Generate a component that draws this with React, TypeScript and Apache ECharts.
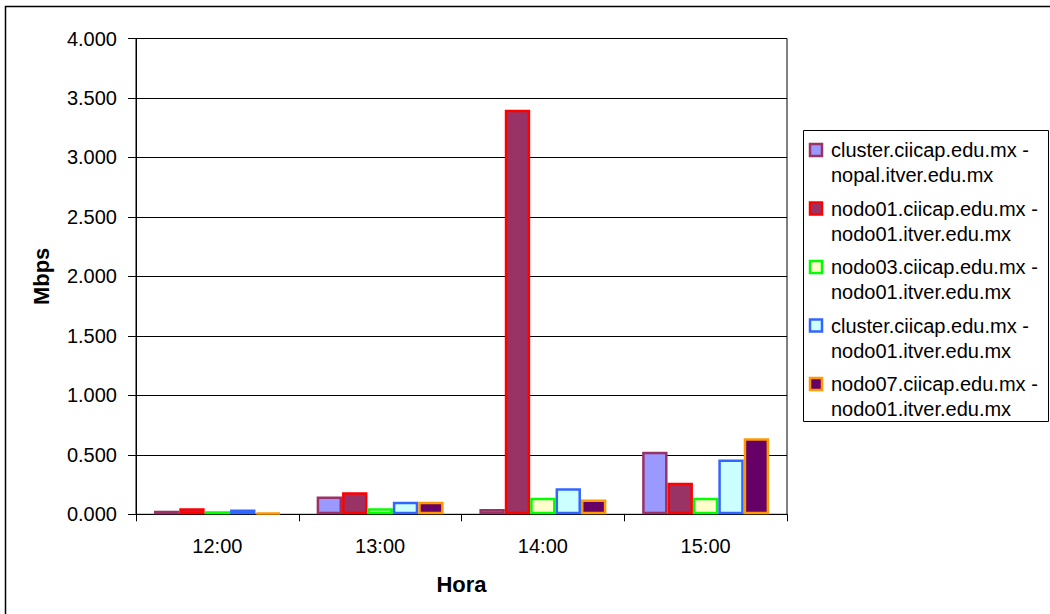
import React, { useEffect, useRef } from "react";
import * as echarts from "echarts";

const categories = ["12:00", "13:00", "14:00", "15:00"];
const seriesNames = [
  "cluster.ciicap.edu.mx -\nnopal.itver.edu.mx",
  "nodo01.ciicap.edu.mx -\nnodo01.itver.edu.mx",
  "nodo03.ciicap.edu.mx -\nnodo01.itver.edu.mx",
  "cluster.ciicap.edu.mx -\nnodo01.itver.edu.mx",
  "nodo07.ciicap.edu.mx -\nnodo01.itver.edu.mx",
];
const s1 = [0.03, 0.15, 0.045, 0.525];
const s2 = [0.05, 0.185, 3.4, 0.265];
const s3 = [0.025, 0.05, 0.14, 0.14];
const s4 = [0.04, 0.105, 0.22, 0.46];
const s5 = [0.015, 0.105, 0.125, 0.64];
const seriesValues = [s1, s2, s3, s4, s5];
const fills = ["#9999FF", "#993366", "#FFFFCC", "#CCFFFF", "#660066"];
const borders = ["#993366", "#FF0000", "#00FF00", "#3366FF", "#FF9900"];

const FONT = "Arial, 'Liberation Sans', sans-serif";

export default function App() {
  const ref = useRef<HTMLDivElement>(null);
  useEffect(() => {
    if (!ref.current) return;
    const chart = echarts.init(ref.current, null, { renderer: "svg" });
    const legendEls: any[] = [];
    const lx = 803, ly = 130, lw = 245, lh = 291;
    legendEls.push({
      type: "rect",
      shape: { x: lx + 0.5, y: ly + 0.5, width: lw, height: lh },
      style: { fill: "#fff", stroke: "#000", lineWidth: 1 },
    });
    seriesNames.forEach((name, i) => {
      const top = 144 + i * 58.5;
      legendEls.push({
        type: "rect",
        shape: { x: 810, y: top, width: 12, height: 12 },
        style: { fill: fills[i], stroke: borders[i], lineWidth: 2.5 },
      });
      legendEls.push({
        type: "text",
        x: 831,
        y: top + 6 - 12.5,
        style: {
          text: name,
          fontFamily: FONT,
          fontSize: 20,
          lineHeight: 25,
          fill: "#000",
          align: "left",
          verticalAlign: "top",
        },
      });
    });
    chart.setOption({
      animation: false,
      backgroundColor: "#fff",
      grid: {
        left: 136,
        right: 263,
        top: 38.5,
        bottom: 99.7,
        containLabel: false,
        outerBoundsMode: "none",
        show: true,
        borderColor: "#000",
        borderWidth: 1,
      },
      xAxis: {
        type: "category",
        data: categories,
        name: "Hora",
        nameLocation: "middle",
        nameGap: 59,
        nameTextStyle: { fontFamily: FONT, fontSize: 22, fontWeight: "bold", color: "#000" },
        axisLine: { lineStyle: { color: "#000", width: 1 } },
        axisTick: { show: true, length: 7, lineStyle: { color: "#000" } },
        axisLabel: { fontFamily: FONT, fontSize: 20, color: "#000", margin: 22 },
      },
      yAxis: {
        type: "value",
        min: 0,
        max: 4,
        interval: 0.5,
        name: "Mbps",
        nameLocation: "middle",
        nameGap: 84,
        nameTextStyle: { fontFamily: FONT, fontSize: 22, fontWeight: "bold", color: "#000" },
        axisLine: { show: true, lineStyle: { color: "#000", width: 1 } },
        axisTick: { show: true, length: 8, lineStyle: { color: "#000" } },
        axisLabel: {
          fontFamily: FONT,
          fontSize: 20,
          color: "#000",
          margin: 19,
          formatter: (v: number) => v.toFixed(3),
        },
        splitLine: { show: true, lineStyle: { color: "#000", width: 1 } },
      },
      series: seriesValues.map((vals, i) => ({
        type: "bar",
        name: seriesNames[i],
        data: vals,
        barGap: "0%",
        barCategoryGap: "22%",
        itemStyle: { color: fills[i], borderColor: borders[i], borderWidth: 2.5 },
      })),
      graphic: [
        {
          type: "rect",
          shape: { x: 5.5, y: 6.5, width: 1100, height: 700 },
          style: { fill: "none", stroke: "#000", lineWidth: 1.5 },
          silent: true,
          z: 100,
        },
        ...legendEls,
      ],
    });
    return () => chart.dispose();
  }, []);
  return (
    <div
      ref={ref}
      style={{ position: "fixed", left: 0, top: 0, width: 1050, height: 614 }}
    />
  );
}
